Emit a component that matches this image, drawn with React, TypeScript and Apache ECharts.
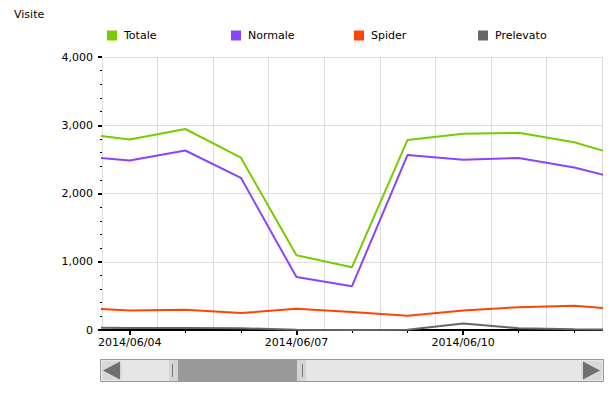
import React, { useEffect, useRef } from "react";
import * as echarts from "echarts";

// Dates (first and last are just outside the visible window)
const dates = [
  "2014/06/03", "2014/06/04", "2014/06/05", "2014/06/06", "2014/06/07", "2014/06/08",
  "2014/06/09", "2014/06/10", "2014/06/11", "2014/06/12", "2014/06/13",
];
const totale = [2890, 2790, 2945, 2525, 1095, 920, 2785, 2875, 2890, 2750, 2510];
const normale = [2550, 2485, 2630, 2230, 775, 642, 2565, 2495, 2520, 2380, 2175];
const spider = [325, 286, 296, 248, 310, 262, 210, 286, 334, 354, 296];
const prelevato = [35, 30, 30, 25, 5, 0, 5, 95, 25, 10, 5];

const seriesNames = ["Totale", "Normale", "Spider", "Prelevato"];
const seriesColors = ["#77cc00", "#8844ff", "#ff4400", "#666666"];
const seriesData = [totale, normale, spider, prelevato];

const yTicks = [0, 1000, 2000, 3000, 4000];
const labeledDates = ["2014/06/04", "2014/06/07", "2014/06/10"];

const FONT = "DejaVu Sans";

export default function App() {
  const ref = useRef<HTMLDivElement>(null);
  useEffect(() => {
    if (!ref.current) return;
    const chart = echarts.init(ref.current, undefined, { renderer: "svg" });
    // x coordinate of date index i is i - 0.5 (so split lines sit at integers)
    const xOf = (i: number) => i - 0.5;
    const labelVals = labeledDates.map((d) => xOf(dates.indexOf(d)));
    const minorVals = dates
      .map((d, i) => xOf(i))
      .filter((v) => v > 0 && v < 9 && !labelVals.includes(v));

    const legendLefts = [107, 231, 354, 478];

    chart.setOption({
      animation: false,
      title: {
        text: "Visite",
        left: 14,
        top: 9,
        padding: 0,
        textStyle: { fontSize: 11, fontWeight: "normal", color: "#000", fontFamily: FONT },
      },
      legend: seriesNames.map((n, i) => ({
        data: [n],
        left: legendLefts[i],
        top: 30,
        padding: 0,
        icon: "rect",
        itemWidth: 10,
        itemHeight: 10,
        selectedMode: false,
        textStyle: { fontSize: 11, color: "#000", fontFamily: FONT, padding: [0, 0, 0, 2] },
      })),
      grid: { left: 102, right: 12, top: 57, bottom: 63, containLabel: false },
      xAxis: [
        {
          type: "value",
          min: 0,
          max: 9,
          interval: 1,
          position: "bottom",
          axisLine: { show: true, lineStyle: { color: "#000", width: 2 } },
          axisTick: { show: true, customValues: labelVals, length: 5, lineStyle: { color: "#000", width: 2 } },
          axisLabel: {
            show: true,
            customValues: labelVals,
            formatter: (v: number) => dates[Math.round(v + 0.5)],
            fontSize: 11,
            color: "#000",
            fontFamily: FONT,
            margin: 7,
          },
          splitLine: { show: false },
          z: 3,
        },
        {
          type: "value",
          min: 0,
          max: 9,
          interval: 1,
          position: "bottom",
          axisLine: { show: false },
          axisTick: { show: false },
          axisLabel: { show: false },
          splitLine: { show: true, lineStyle: { color: "#dddddd", width: 1 } },
        },
        {
          type: "value",
          min: 0,
          max: 9,
          position: "bottom",
          axisLine: { show: false },
          axisTick: { show: true, customValues: minorVals, length: 3, lineStyle: { color: "#000", width: 1 } },
          axisLabel: { show: false },
          splitLine: { show: false },
        },
      ],
      yAxis: {
        type: "value",
        min: yTicks[0],
        max: yTicks[yTicks.length - 1],
        interval: 1000,
        axisLine: { show: true, lineStyle: { color: "#dddddd", width: 1 } },
        axisTick: { show: true, length: 4, lineStyle: { color: "#000", width: 2 } },
        minorTick: { show: true, splitNumber: 5, length: 2, lineStyle: { color: "#000", width: 1 } },
        axisLabel: {
          formatter: (v: number) => v.toLocaleString("en-US"),
          fontSize: 11,
          color: "#000",
          fontFamily: FONT,
          margin: 9,
        },
        splitLine: { show: true, lineStyle: { color: "#dddddd", width: 1 } },
      },
      series: seriesNames.map((n, si) => ({
        name: n,
        type: "line",
        xAxisIndex: 0,
        data: seriesData[si].map((v, i) => [xOf(i), v]),
        showSymbol: false,
        symbol: "none",
        color: seriesColors[si],
        lineStyle: { width: 2, color: seriesColors[si] },
        clip: true,
      })),
      graphic: [
        // scrollbar track
        { type: "rect", shape: { x: 100.5, y: 359.5, width: 503, height: 22 }, style: { fill: "#e6e6e6", stroke: "#999999", lineWidth: 1 } },
        // left arrow button
        { type: "rect", shape: { x: 102, y: 361, width: 20, height: 19, r: 3 }, style: { fill: "#d8d8d8" } },
        { type: "polygon", shape: { points: [[103, 370.5], [120, 361.5], [120, 379.5]] }, style: { fill: "#707070" } },
        // right arrow button
        { type: "rect", shape: { x: 581, y: 361, width: 21, height: 19, r: 3 }, style: { fill: "#d8d8d8" } },
        { type: "polygon", shape: { points: [[600, 370.5], [583, 361.5], [583, 379.5]] }, style: { fill: "#707070" } },
        // thumb
        { type: "rect", shape: { x: 169, y: 360, width: 9, height: 21 }, style: { fill: "#d4d4d4" } },
        { type: "rect", shape: { x: 178, y: 360, width: 119, height: 21 }, style: { fill: "#999999" } },
        { type: "rect", shape: { x: 297, y: 360, width: 9, height: 21 }, style: { fill: "#d4d4d4" } },
        { type: "line", shape: { x1: 172.5, y1: 364, x2: 172.5, y2: 377 }, style: { stroke: "#777777", lineWidth: 1 } },
        { type: "line", shape: { x1: 302.5, y1: 364, x2: 302.5, y2: 377 }, style: { stroke: "#777777", lineWidth: 1 } },
      ],
    });
    return () => chart.dispose();
  }, []);
  return <div ref={ref} style={{ width: 614, height: 393, position: "absolute", left: 0, top: 0 }} />;
}
